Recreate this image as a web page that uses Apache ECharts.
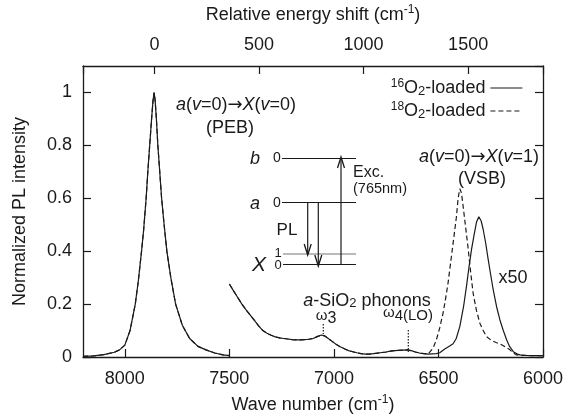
<!DOCTYPE html>
<html>
<head>
<meta charset="utf-8">
<script src="https://cdn.jsdelivr.net/npm/echarts@6/dist/echarts.min.js"></script>
<style>
  html, body { margin: 0; padding: 0; background: #fff; }
  #chart { width: 569px; height: 418px; }
</style>
</head>
<body>
<div id="chart"></div>
<script>
// wave number axis (cm-1), drawn reversed
const waveMin = 6000
const waveMax = 8200
// relative energy shift is measured from the PEB peak
const pebCenter = 7858
const shiftStep = 500

// PEB band, both samples coincide here (x1)
const pebBand = [
  [8200, 0.002], [8150, 0.004], [8100, 0.009], [8050, 0.018], [8025, 0.027],
  [8000, 0.045], [7975, 0.10], [7950, 0.20], [7935, 0.29], [7920, 0.40],
  [7910, 0.48], [7898, 0.60], [7890, 0.70], [7881, 0.80], [7872, 0.90],
  [7865, 0.97], [7860, 1.00], [7855, 0.97], [7849, 0.90], [7842, 0.80],
  [7833, 0.70], [7824, 0.60], [7812, 0.50], [7799, 0.40], [7780, 0.30],
  [7757, 0.20], [7725, 0.12], [7690, 0.07], [7650, 0.04], [7612, 0.027],
  [7570, 0.015], [7530, 0.008], [7500, 0.005]
]

// x50 region, a-SiO2 background shared by both samples
const phononBg = [
  [7500, 0.276], [7480, 0.25], [7460, 0.225], [7440, 0.20], [7420, 0.178],
  [7400, 0.158], [7380, 0.138], [7360, 0.118], [7340, 0.10], [7320, 0.09],
  [7300, 0.082], [7280, 0.076], [7260, 0.072], [7240, 0.070], [7220, 0.068],
  [7200, 0.066], [7180, 0.065], [7160, 0.065], [7140, 0.066], [7120, 0.067],
  [7100, 0.070], [7080, 0.077], [7060, 0.083], [7045, 0.080], [7030, 0.072],
  [7010, 0.060], [6990, 0.048], [6970, 0.039], [6950, 0.031], [6930, 0.024],
  [6910, 0.020], [6890, 0.016], [6870, 0.013], [6850, 0.011], [6830, 0.011],
  [6810, 0.013], [6790, 0.015], [6770, 0.017], [6750, 0.019], [6730, 0.022],
  [6710, 0.024], [6690, 0.025], [6670, 0.026], [6650, 0.027], [6630, 0.024],
  [6610, 0.019], [6590, 0.015], [6570, 0.013], [6550, 0.011]
]

// VSB band of 16O2-loaded sample (x50)
const vsb16 = [
  [6550, 0.011], [6530, 0.012], [6510, 0.013], [6494, 0.016], [6470, 0.030],
  [6450, 0.040], [6430, 0.05], [6415, 0.07], [6398, 0.115], [6380, 0.19],
  [6366, 0.267], [6354, 0.34], [6342, 0.406], [6330, 0.46], [6318, 0.51],
  [6307, 0.53], [6296, 0.515], [6286, 0.482], [6274, 0.43], [6262, 0.368],
  [6250, 0.31], [6238, 0.254], [6222, 0.19], [6206, 0.14], [6190, 0.10],
  [6174, 0.065], [6160, 0.04], [6142, 0.02], [6125, 0.012], [6110, 0.008],
  [6080, 0.006], [6050, 0.005], [6000, 0.005]
]

// VSB band of 18O2-loaded sample (x50)
const vsb18 = [
  [6550, 0.011], [6540, 0.02], [6525, 0.035], [6510, 0.065], [6494, 0.11],
  [6478, 0.166], [6466, 0.22], [6454, 0.28], [6442, 0.355], [6430, 0.43],
  [6422, 0.48], [6414, 0.53], [6406, 0.60], [6398, 0.636], [6390, 0.62],
  [6382, 0.57], [6370, 0.49], [6358, 0.41], [6346, 0.32], [6334, 0.24],
  [6318, 0.175], [6302, 0.128], [6286, 0.10], [6270, 0.077], [6246, 0.062],
  [6222, 0.054], [6200, 0.047], [6180, 0.038], [6158, 0.027], [6140, 0.014],
  [6126, 0.008], [6100, 0.006], [6050, 0.005], [6000, 0.005]
]

const FONT = '"Liberation Sans", Arial, Helvetica, sans-serif'
const INK = '#1a1a1a'
const name16 = '16O2-loaded'
const name18 = '18O2-loaded'

const chart = echarts.init(document.getElementById('chart'), null, { renderer: 'canvas' })

const richBase = {
  sup: { fontSize: 12, fontFamily: FONT, color: INK, verticalAlign: 'top' },
  sub: { fontSize: 13, fontFamily: FONT, color: INK, verticalAlign: 'bottom' },
  i: { fontSize: 18, fontFamily: FONT, color: INK, fontStyle: 'italic' },
  ar: { fontSize: 18, fontFamily: '"DejaVu Sans", sans-serif', color: INK },
  n: { fontSize: 18, fontFamily: FONT, color: INK }
}

const frameAxis = {
  axisLine: { show: true, onZero: false, lineStyle: { color: INK, width: 1.3 } },
  axisTick: { show: true, inside: true, length: 8, lineStyle: { color: INK, width: 1.2 } },
  splitLine: { show: false }
}
const plain = v => String(v)
// top axis: only whole multiples of the step get a label
const shiftLabel = v => (Math.abs(v % shiftStep) < 1e-6 ? String(v) : '')

function txt(x, y, text, size, extra) {
  return {
    type: 'text', x, y, silent: true,
    style: Object.assign({
      text, fill: INK, fontSize: size, fontFamily: FONT,
      align: 'center', verticalAlign: 'middle', rich: richBase
    }, extra || {})
  }
}
function seg(x1, y1, x2, y2, color, dash) {
  return {
    type: 'line', silent: true,
    shape: { x1, y1, x2, y2 },
    style: { stroke: color || INK, lineWidth: 1.2, lineDash: dash || null }
  }
}
function head(x, tip, dir) {
  // open arrow head, dir = 1 points down, -1 points up
  return {
    type: 'polyline', silent: true,
    shape: { points: [[x - 3.5, tip - dir * 11], [x, tip], [x + 3.5, tip - dir * 11]] },
    style: { stroke: INK, lineWidth: 1.3, fill: null }
  }
}
const omegaRich = size => Object.assign({}, richBase, {
  w: { fontSize: size, fontFamily: FONT, color: INK, verticalAlign: 'bottom', padding: [6, 0, 0, 0] }
})

const annotations = [
  // PEB label
  txt(236, 105, '{i|a}({i|v}=0){ar|→}{i|X}({i|v}=0)', 18),
  txt(230, 128, '(PEB)', 18),
  // VSB label
  txt(479, 157, '{i|a}({i|v}=0){ar|→}{i|X}({i|v}=1)', 18),
  txt(482, 179, '(VSB)', 18),
  txt(513, 278, 'x50', 18),
  // phonons
  txt(367, 301, '{i|a}-SiO{sub|2} phonons', 18),
  txt(326, 316, 'ω{w|3}', 15, { rich: omegaRich(16) }),
  txt(408, 313, 'ω{w|4(LO)}', 15, { rich: omegaRich(15) }),
  seg(323.3, 324, 323.3, 334, INK, [1.5, 1.5]),
  seg(408.3, 330, 408.3, 352, INK, [1.5, 1.5]),
  // energy level diagram
  txt(255, 159, '{i|b}', 18),
  txt(277, 158, '0', 14),
  seg(282, 158.5, 356, 158.5),
  txt(255, 204, '{i|a}', 18),
  txt(277, 203, '0', 14),
  seg(282, 202.5, 356, 202.5),
  txt(259, 265, 'X', 21, { fontStyle: 'italic' }),
  txt(278, 253, '1', 13),
  txt(278, 265, '0', 13),
  seg(283, 254, 356, 254, '#777'),
  seg(283, 264.5, 356, 264.5),
  seg(307.7, 202.5, 307.7, 254),
  head(307.7, 255, 1),
  seg(318.3, 202.5, 318.3, 265),
  head(318.3, 266, 1),
  seg(341, 264.5, 341, 158),
  head(341, 157, -1),
  txt(287, 230, 'PL', 17),
  txt(353, 173, 'Exc.', 16, { align: 'left' }),
  txt(353, 189, '(765nm)', 14.5, { align: 'left' })
]

function lineSeries(name, data, dashed) {
  return {
    name, type: 'line', data,
    xAxisIndex: 0, yAxisIndex: 0,
    showSymbol: false, symbol: 'none', smooth: false,
    lineStyle: { color: INK, width: 1.2, type: dashed ? [5, 3] : 'solid' },
    itemStyle: { color: INK },
    z: dashed ? 3 : 2
  }
}

chart.setOption({
  animation: false,
  textStyle: { fontFamily: FONT },
  grid: { left: 83, right: 26, top: 66, bottom: 61, outerBoundsMode: 'none' },
  legend: {
    orient: 'vertical', right: 41, top: 73,
    align: 'right', itemWidth: 32, itemHeight: 10, itemGap: 3,
    data: [name16, name18],
    itemStyle: { opacity: 0 },
    lineStyle: { width: 1.2 },
    formatter: n => n === name16 ? '{sup|16}O{sub|2}-loaded' : '{sup|18}O{sub|2}-loaded',
    textStyle: { fontSize: 18, fontFamily: FONT, color: INK, lineHeight: 20, rich: richBase }
  },
  xAxis: [
    Object.assign({}, frameAxis, {
      type: 'value', position: 'bottom', inverse: true,
      min: waveMin, max: waveMax,
      name: 'Wave number (cm{sup|-1})', nameLocation: 'middle', nameGap: 37,
      nameTextStyle: { fontSize: 18, color: INK, fontFamily: FONT, lineHeight: 22, rich: richBase },
      axisLabel: { fontSize: 18, color: INK, fontFamily: FONT, margin: 13, showMaxLabel: false, formatter: plain }
    }),
    Object.assign({}, frameAxis, {
      type: 'value', position: 'top',
      min: pebCenter - waveMax, max: pebCenter - waveMin,
      name: 'Relative energy shift (cm{sup|-1})', nameLocation: 'middle', nameGap: 40,
      nameTextStyle: { fontSize: 18, color: INK, fontFamily: FONT, lineHeight: 22, rich: richBase },
      axisLabel: { fontSize: 18, color: INK, fontFamily: FONT, margin: 12, hideOverlap: false,
        showMinLabel: true, showMaxLabel: true, formatter: shiftLabel }
    })
  ],
  yAxis: [
    Object.assign({}, frameAxis, {
      type: 'value', position: 'left', min: 0, max: 1.1,
      name: 'Normalized PL intensity', nameLocation: 'middle', nameGap: 54,
      nameTextStyle: { fontSize: 18, color: INK, fontFamily: FONT },
      axisLabel: { fontSize: 18, color: INK, fontFamily: FONT, margin: 11, showMaxLabel: false, formatter: plain }
    }),
    Object.assign({}, frameAxis, {
      type: 'value', position: 'right', min: 0, max: 1.1,
      axisLabel: { show: false }
    })
  ],
  series: [
    lineSeries(name16, pebBand, false),
    lineSeries(name16, phononBg.concat(vsb16), false),
    lineSeries(name18, pebBand, true),
    lineSeries(name18, phononBg.concat(vsb18), true)
  ],
  graphic: annotations
})
</script>
</body>
</html>
